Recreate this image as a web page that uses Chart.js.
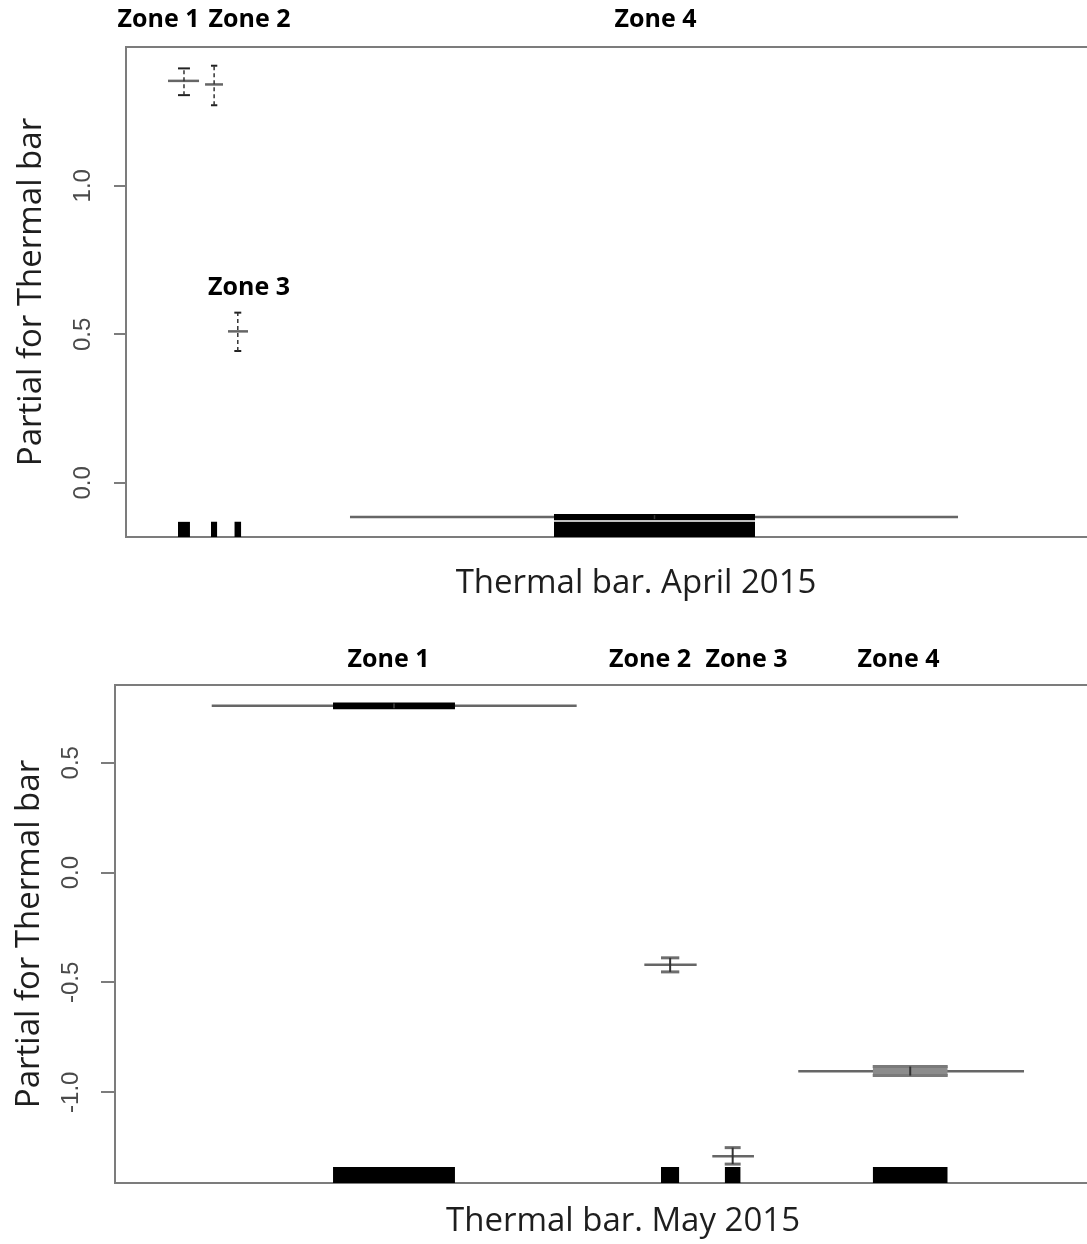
<!DOCTYPE html>
<html><head><meta charset="utf-8">
<script src="https://cdn.jsdelivr.net/npm/chart.js@4.4.1/dist/chart.umd.min.js"></script>
<style>
html,body{margin:0;padding:0;background:#fff;overflow:hidden;width:1087px;height:1244px}
#c1{position:absolute;left:0;top:0}
#c2{position:absolute;left:0;top:620px}
</style></head><body>
<canvas id="c1" width="1150" height="620"></canvas>
<canvas id="c2" width="1150" height="624"></canvas>
<script>
// ---------- April 2015 ----------
const aprZones    = ['Zone 1', 'Zone 2', 'Zone 3', 'Zone 4'];
const aprFit      = [1.353, 1.341, 0.510, -0.115];
const aprSeLow    = [1.305, 1.271, 0.444, -0.122];
const aprSeHigh   = [1.395, 1.404, 0.573, -0.108];
const aprLineFrom = [4.12, 7.75, 10.00, 21.96];
const aprLineTo   = [7.16, 9.51, 11.96, 81.57];
const aprRugFrom  = [5.10, 8.33, 10.62, 41.96];
const aprRugTo    = [6.27, 8.95, 11.30, 61.67];
const aprRugTop   = -0.131;
const aprLabelX   = [3.19, 12.11, 12.06, 51.91];
const aprLabelY   = [1.558, 1.558, 0.656, 1.558];
const aprTicks    = [0.0, 0.5, 1.0];
const aprYMin = -0.182, aprYMax = 1.467;

// ---------- May 2015 ----------
const mayZones    = ['Zone 1', 'Zone 2', 'Zone 3', 'Zone 4'];
const mayFit      = [0.759, -0.419, -1.291, -0.904];
const maySeLow    = [0.748, -0.452, -1.327, -0.924];
const maySeHigh   = [0.770, -0.388, -1.252, -0.883];
const mayLineFrom = [9.52, 52.10, 58.79, 67.25];
const mayLineTo   = [45.44, 57.25, 62.89, 89.47];
const mayRugFrom  = [21.46, 53.74, 60.01, 74.58];
const mayRugTo    = [33.46, 55.54, 61.58, 81.96];
const mayRugTop   = -1.340;
const mayLabelX   = [26.92, 52.66, 62.16, 77.12];
const mayLabelY   = [0.968, 0.968, 0.968, 0.968];
const mayTicks    = [-1.0, -0.5, 0.0, 0.5];
const mayYMin = -1.413, mayYMax = 0.854;

const AX = '#7c7c7c';

function makePanel(canvasId, P, S) {
  const base = {type: 'line', pointRadius: 0, pointHoverRadius: 0, tension: 0, fill: false, spanGaps: false};
  const datasets = [];
  P.fit.forEach((f, i) => {
    const c = (P.rugFrom[i] + P.rugTo[i]) / 2;
    datasets.push({...base, data: [{x: P.lineFrom[i], y: f}, {x: P.lineTo[i], y: f}],
      borderColor: S.fitColor, borderWidth: S.fitWidth, order: 50});
    if (S.bandColor[i]) {
      datasets.push({...base, data: [{x: P.rugFrom[i], y: P.seHigh[i]}, {x: P.rugTo[i], y: P.seHigh[i]}],
        borderColor: 'rgba(0,0,0,0)', borderWidth: 0, fill: {value: P.seLow[i]},
        backgroundColor: S.bandColor[i], order: 40});
    }
    [P.seHigh[i], P.seLow[i]].forEach(v => {
      datasets.push({...base, data: [{x: P.rugFrom[i], y: v}, {x: P.rugTo[i], y: v}],
        borderColor: S.capColor[i], borderWidth: S.capWidth[i], order: 30});
    });
    datasets.push({...base, data: [{x: c, y: P.seLow[i]}, {x: c, y: P.seHigh[i]}],
      borderColor: S.vColor, borderWidth: S.vWidth, borderDash: S.vDash, order: 20});
    datasets.push({...base, data: [{x: P.rugFrom[i], y: P.rugTop}, {x: P.rugTo[i], y: P.rugTop}],
      borderColor: 'rgba(0,0,0,0)', borderWidth: 0, fill: 'start', backgroundColor: '#000', order: 10});
  });

  const annot = {
    id: 'annot',
    afterDraw(chart) {
      const {ctx, chartArea, scales: {x, y}} = chart;
      ctx.save();
      ctx.strokeStyle = AX; ctx.lineWidth = 2;
      ctx.beginPath();
      ctx.moveTo(chartArea.left, chartArea.top);
      ctx.lineTo(chartArea.right, chartArea.top);
      ctx.stroke();
      ctx.fillStyle = '#000';
      ctx.font = 'bold 25px "Open Sans"';
      ctx.textAlign = 'center';
      ctx.textBaseline = 'middle';
      P.zones.forEach((t, i) => {
        ctx.fillText(t, x.getPixelForValue(P.labelX[i]), y.getPixelForValue(P.labelY[i]));
      });
      ctx.restore();
    }
  };

  return new Chart(document.getElementById(canvasId), {
    type: 'line',
    data: {datasets},
    options: {
      responsive: false, animation: false,
      layout: {padding: {top: S.padTop, right: S.padRight, left: 0, bottom: 0}},
      plugins: {legend: {display: false}, tooltip: {enabled: false}},
      scales: {
        x: {
          type: 'linear', min: 0, max: 100,
          grid: {display: false}, ticks: {display: false},
          border: {display: true, color: AX, width: 2},
          title: {display: true, text: S.xTitle, color: '#1e1e1e',
            font: {family: 'Open Sans', size: 33}, padding: {top: 0, bottom: S.xTitlePad}},
          afterFit(s) { s.height = S.xAxisH; }
        },
        y: {
          type: 'linear', min: P.yMin, max: P.yMax,
          afterBuildTicks(s) { s.ticks = P.ticks.map(v => ({value: v})); },
          ticks: {minRotation: 90, maxRotation: 90, crossAlign: 'center', padding: S.tickPad,
            font: {family: 'Liberation Sans', size: 24}, color: '#4a4a4a',
            callback: v => Number(v).toFixed(1)},
          grid: {display: true, drawOnChartArea: false, drawTicks: true, tickLength: S.tickLen,
            color: AX, lineWidth: 2},
          border: {display: true, color: AX, width: 2},
          title: {display: true, text: 'Partial for Thermal bar', color: '#1e1e1e',
            font: {family: 'Open Sans', size: 33}, padding: {top: S.yTitlePad, bottom: 0}},
          afterFit(s) { s.width = S.yAxisW; }
        }
      }
    },
    plugins: [annot]
  });
}

makePanel('c1', {
  zones: aprZones, fit: aprFit, seLow: aprSeLow, seHigh: aprSeHigh,
  lineFrom: aprLineFrom, lineTo: aprLineTo, rugFrom: aprRugFrom, rugTo: aprRugTo,
  rugTop: aprRugTop, labelX: aprLabelX, labelY: aprLabelY, ticks: aprTicks,
  yMin: aprYMin, yMax: aprYMax
}, {
  xTitle: 'Thermal bar. April 2015',
  padTop: 47, padRight: 4, xAxisH: 83, yAxisW: 126, xTitlePad: 17, yTitlePad: 12,
  tickLen: 12, tickPad: 14,
  fitColor: '#666', fitWidth: 2.5,
  capColor: ['#222', '#222', '#222', '#000'], capWidth: [2, 2, 2, 2],
  bandColor: [null, null, null, '#000'],
  vColor: '#333', vWidth: 1.5, vDash: [4, 3]
});

makePanel('c2', {
  zones: mayZones, fit: mayFit, seLow: maySeLow, seHigh: maySeHigh,
  lineFrom: mayLineFrom, lineTo: mayLineTo, rugFrom: mayRugFrom, rugTo: mayRugTo,
  rugTop: mayRugTop, labelX: mayLabelX, labelY: mayLabelY, ticks: mayTicks,
  yMin: mayYMin, yMax: mayYMax
}, {
  xTitle: 'Thermal bar. May 2015',
  padTop: 65, padRight: 19, xAxisH: 61, yAxisW: 115, xTitlePad: 3, yTitlePad: 10,
  tickLen: 14, tickPad: 9,
  fitColor: '#666', fitWidth: 2.5,
  capColor: ['#000', '#6e6e6e', '#6e6e6e', '#7a7a7a'], capWidth: [2, 3, 3, 3],
  bandColor: ['#000', null, null, '#8c8c8c'],
  vColor: '#333', vWidth: 2, vDash: []
});
</script>
</body></html>
